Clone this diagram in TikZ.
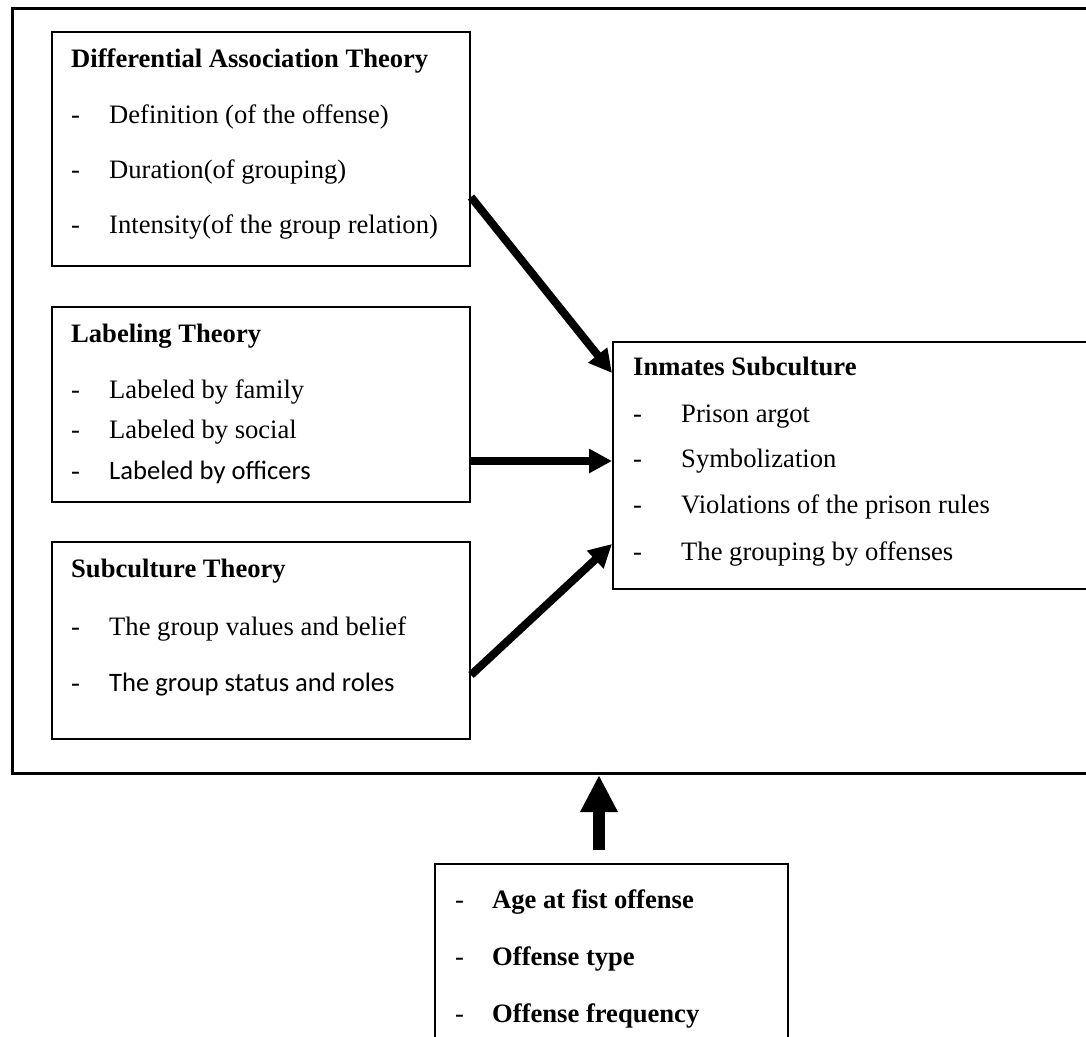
\documentclass[tikz,border=0pt]{standalone}
\usepackage{fontspec}
\setmainfont{Liberation Serif}
\newfontfamily\calfont{Carlito}
\usetikzlibrary{arrows.meta}
\tikzset{
  box/.style={draw=black, line width=2pt, fill=white, anchor=north west, inner sep=0pt},
  frame/.style={draw=black, line width=3pt, anchor=north west, inner sep=0pt},
  txt/.style={anchor=base west, inner sep=0pt, font=\fontsize{26.6}{32}\selectfont},
  arr/.style={line width=8pt, -{Triangle[length=23pt,width=23pt]}},
  uparr/.style={line width=12pt, -{Triangle[length=37pt,width=35pt]}}
}
\begin{document}
\begin{tikzpicture}[x=1pt,y=-1pt]
\useasboundingbox (0,0) rectangle (1086,1036);
\clip (0,0) rectangle (1086,1036);
\fill[white] (0,0) rectangle (1086,1036);

% outer frame
\node[frame, minimum width=1100pt, minimum height=765pt] (outer) at (11,7) {};

% boxes
\node[box, minimum width=418pt, minimum height=234pt] (dat) at (51,31) {};
\node[box, minimum width=418pt, minimum height=195pt] (lab) at (51,306) {};
\node[box, minimum width=418pt, minimum height=197pt] (sub) at (51,541) {};
\node[box, minimum width=500pt, minimum height=247pt] (ins) at (612,341) {};
\node[box, minimum width=353pt, minimum height=200pt] (bot) at (434,863) {};

% Differential Association Theory
\node[txt] (datT) at (71,67) {\bfseries Differential Association Theory};
\node[txt] (datD1) at (71,123) {-};
\node[txt] (datI1) at (109,123) {Definition (of the offense)};
\node[txt] (datD2) at (71,178) {-};
\node[txt] (datI2) at (109,178) {Duration(of grouping)};
\node[txt] (datD3) at (71,233) {-};
\node[txt] (datI3) at (109,233) {Intensity(of the group relation)};

% Labeling Theory
\node[txt] (labT) at (71,342) {\bfseries Labeling Theory};
\node[txt] (labD1) at (71,398) {-};
\node[txt] (labI1) at (109,398) {Labeled by family};
\node[txt] (labD2) at (71,438) {-};
\node[txt] (labI2) at (109,438) {Labeled by social};
\node[txt] (labD3) at (71,479) {-};
\node[txt] (labI3) at (109,479) {\calfont Labeled by officers};

% Subculture Theory
\node[txt] (subT) at (71,577) {\bfseries Subculture Theory};
\node[txt] (subD1) at (71,635) {-};
\node[txt] (subI1) at (109,635) {The group values and belief};
\node[txt] (subD2) at (71,691) {-};
\node[txt] (subI2) at (109,691) {\calfont The group status and roles};

% Inmates Subculture
\node[txt] (insT) at (633,375) {\bfseries Inmates Subculture};
\node[txt] (insD1) at (633,422) {-};
\node[txt] (insI1) at (681,422) {Prison argot};
\node[txt] (insD2) at (633,467) {-};
\node[txt] (insI2) at (681,467) {Symbolization};
\node[txt] (insD3) at (633,513) {-};
\node[txt] (insI3) at (681,513) {Violations of the prison rules};
\node[txt] (insD4) at (633,560) {-};
\node[txt] (insI4) at (681,560) {The grouping by offenses};

% bottom box
\node[txt] (botD1) at (455,908) {-};
\node[txt] (botI1) at (492,908) {\bfseries Age at fist offense};
\node[txt] (botD2) at (455,965) {-};
\node[txt] (botI2) at (492,965) {\bfseries Offense type};
\node[txt] (botD3) at (455,1022) {-};
\node[txt] (botI3) at (492,1022) {\bfseries Offense frequency};

% connectors
\draw[arr] ([yshift=70pt]dat.south east) -- ([yshift=-32pt]ins.north west);
\draw[arr] ([yshift=42pt]lab.south east) -- ([yshift=42pt]lab.south east -| ins.west);
\draw[arr] ([yshift=65pt]sub.south east) -- ([yshift=46pt]ins.south west);

\coordinate (upS) at (599,850);
\coordinate (upE) at (599,775);
\draw[uparr] (upS) -- (upE);
\end{tikzpicture}
\end{document}
